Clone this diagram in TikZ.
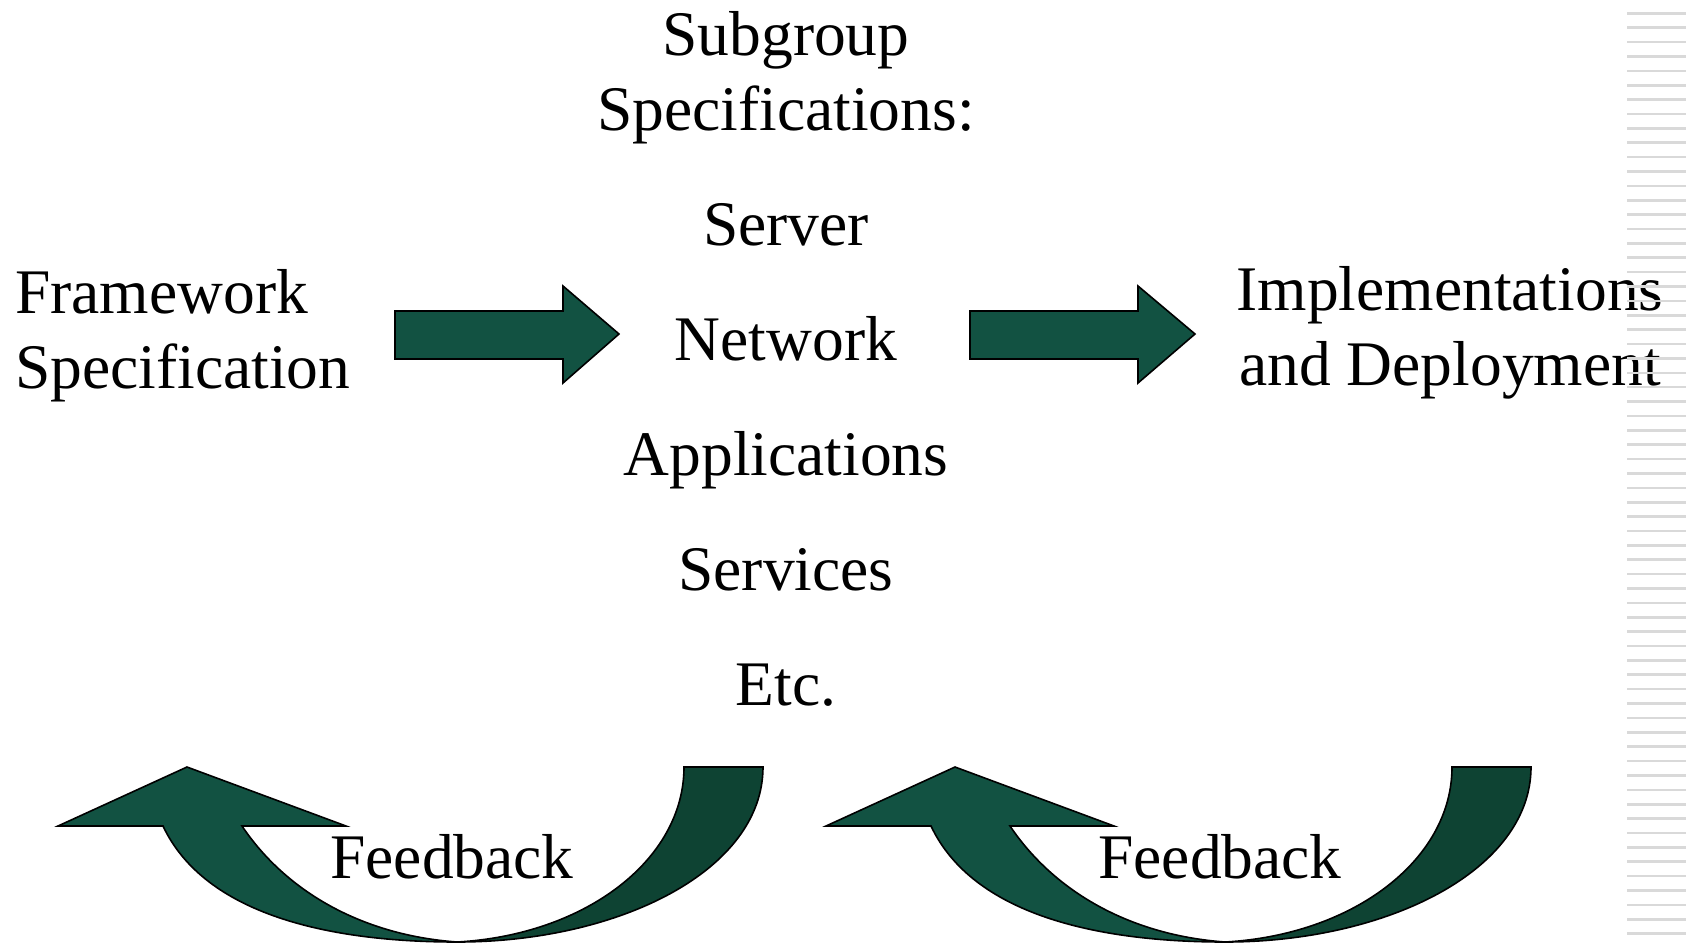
\documentclass[tikz,border=0pt]{standalone}
\usepackage{fontspec}
\setmainfont{Liberation Serif}
\definecolor{arrowgreen}{RGB}{18,82,66}
\definecolor{arrowdark}{RGB}{14,67,51}
\definecolor{stripegray}{RGB}{217,217,217}
\tikzset{
  txt/.style={font=\fontsize{63.5}{75}\selectfont,inner sep=0pt,anchor=base},
  blockarrow/.style={fill=arrowgreen,draw=black,line width=1.6pt,line join=miter},
  backarrow/.style={fill=arrowdark,draw=black,line width=1.6pt}
}
\begin{document}
\begin{tikzpicture}[x=1pt,y=-1pt]

\useasboundingbox (0,0) rectangle (1686,943);
\clip (0,0) rectangle (1686,943);

% multi-line nodes sit on the baseline of their last line
\node[txt,align=left,anchor=base west] (frame) at (15,388) {Framework\\Specification};
\node[txt,align=center] (subgrp) at (786,130) {Subgroup\\Specifications:};
\node[txt] (server) at (786,245) {Server};
\node[txt] (network) at (786,360) {Network};
\node[txt] (apps) at (786,475) {Applications};
\node[txt] (services) at (786,590) {Services};
\node[txt] (etc) at (786,705) {Etc.};
\node[txt,align=center] (impl) at (1450,385) {Implementations\\and Deployment};

\draw[blockarrow] (395,311) -- (563,311) -- (563,286) -- (619,334) -- (563,383) -- (563,359) -- (395,359) -- cycle;
\draw[blockarrow] (970,311) -- (1138,311) -- (1138,286) -- (1195,334) -- (1138,383) -- (1138,359) -- (970,359) -- cycle;

\foreach \dx/\fb in {0/fbone,768/fbtwo} {
  \begin{scope}[shift={(\dx,0)}]
    \draw[backarrow] (684,767) -- (763,767) .. controls (763,870) and (620,942) .. (457,942)
      .. controls (585,935) and (684,860) .. (684,767) -- cycle;
    \draw[blockarrow] (163,826) .. controls (205,915) and (330,942) .. (457,942)
      .. controls (360,935) and (285,890) .. (242,826) -- (346,826) -- (187,767) -- (58,826) -- cycle;
    \node[txt] (\fb) at (452,878) {Feedback};
  \end{scope}
}

\foreach \i in {0,...,64}
  \fill[stripegray] (1627,{12+14.38*\i}) rectangle (1686,{14.6+14.38*\i});

\end{tikzpicture}
\end{document}
